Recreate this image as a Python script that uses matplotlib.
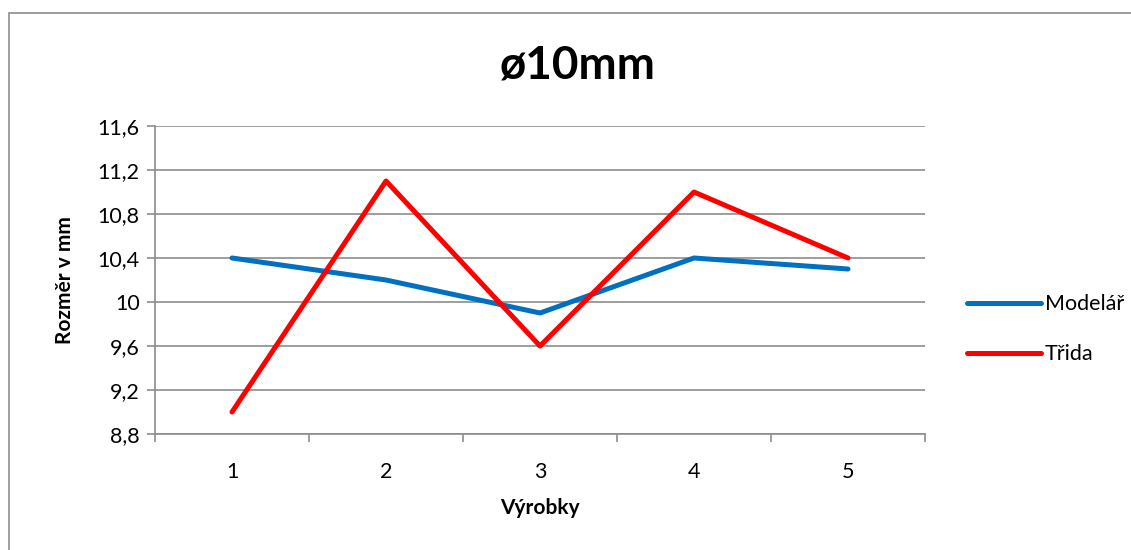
#!/usr/bin/env python3
"""Line chart: measured size of 10 mm parts, modeller vs. class."""

import matplotlib
matplotlib.use("Agg")
import matplotlib.pyplot as plt
from matplotlib.patches import Rectangle

products = ["1", "2", "3", "4", "5"]
modelar = [10.4, 10.2, 9.9, 10.4, 10.3]
trida = [9.0, 11.1, 9.6, 11.0, 10.4]
y_ticks = [8.8, 9.2, 9.6, 10.0, 10.4, 10.8, 11.2, 11.6]
y_labels = ["8,8", "9,2", "9,6", "10", "10,4", "10,8", "11,2", "11,6"]

plt.rcParams["font.family"] = ["Lato", "DejaVu Sans"]
GREY = "#8c8c8c"

fig = plt.figure(figsize=(11.31, 5.5), dpi=100)
fig.patches.append(Rectangle((9 / 1131, -0.1), 1.2, (537 + 55) / 550, transform=fig.transFigure,
                             fill=False, edgecolor=GREY, linewidth=1.2))

ax = fig.add_axes([155 / 1131, 116 / 550, 770 / 1131, 308 / 550])
x = list(range(len(products)))
ax.plot(x, modelar, color="#0070C0", linewidth=3.6, solid_capstyle="round", label="Modelář", zorder=3)
ax.plot(x, trida, color="#FF0000", linewidth=3.6, solid_capstyle="round", label="Třida", zorder=3)

ax.set_xlim(-0.5, len(products) - 0.5)
ax.set_ylim(8.8, 11.6)
ax.set_yticks(y_ticks)
ax.set_yticklabels(y_labels)
ax.set_xticks(x)
ax.set_xticklabels(products)
ax.set_xticks([i - 0.5 for i in range(len(products) + 1)], minor=True)
ax.tick_params(axis="x", which="major", length=0, labelsize=15.5, pad=20)
ax.tick_params(axis="x", which="minor", length=6, color=GREY, width=1.2)
ax.tick_params(axis="y", length=6, color=GREY, width=1.2, labelsize=15.5, pad=5)
ax.yaxis.grid(True, color=GREY, linewidth=1.2)
ax.set_axisbelow(True)
for side in ("top", "right"):
    ax.spines[side].set_visible(False)
for side in ("left", "bottom"):
    ax.spines[side].set_color(GREY)
    ax.spines[side].set_linewidth(1.2)

ax.set_xlabel("Výrobky", fontsize=15, fontweight="bold", labelpad=12)
ax.set_ylabel("Rozměr v mm", fontsize=15, fontweight="bold", labelpad=16)
fig.text(578 / 1131, 1 - 66 / 550, "ø10mm", fontsize=33, fontweight="bold", ha="center", va="center")

ax.legend(loc="center left", bbox_to_anchor=(1.03, 0.34), frameon=False, fontsize=15.5,
          handlelength=3.4, handletextpad=0.2, labelspacing=1.4)

fig.savefig("out.png", dpi=100)
